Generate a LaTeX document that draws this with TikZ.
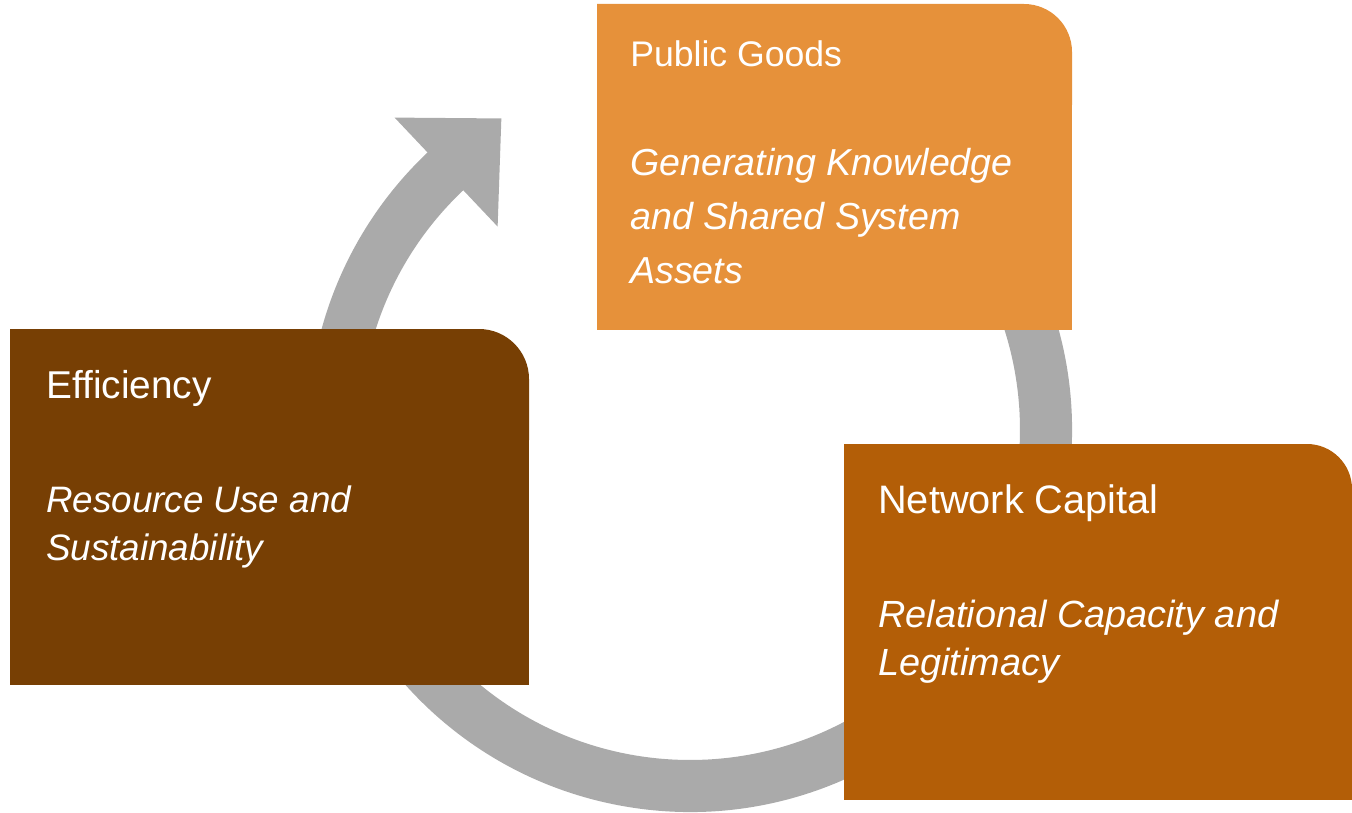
\documentclass[tikz,border=0pt]{standalone}
\usepackage{fontspec}
\setmainfont{Liberation Sans}
\usepackage{xcolor}
\usetikzlibrary{positioning,calc}

\definecolor{ringgray}{HTML}{AAAAAA}
\definecolor{pgorange}{HTML}{E6913A}
\definecolor{effbrown}{HTML}{773F04}
\definecolor{ncbrown}{HTML}{B35E07}

\begin{document}
\begin{tikzpicture}[x=0.75pt,y=-0.75pt,
                title node/.style={anchor=base west,inner sep=0pt,text=white},
                body node/.style={anchor=base west,inner sep=0pt,text=white,align=left}]
\useasboundingbox (0,0) rectangle (1352,813);
%Ring
\begin{scope}[shift={(690,430)},yscale=-1]
    \fill[ringgray] (80:382) arc[start angle=80,end angle=-226.6,radius=382]
        -- (133.4:430) -- ($(133.4:356)+(43.4:77)$) -- (133.4:280)
        -- (133.4:330) arc[start angle=-226.6,end angle=80,radius=330] -- cycle;
\end{scope}
%Boxes
    \fill[pgorange] (597,105) -- (597,4) -- (1024,4) .. controls (1050.5,4) and (1072,25.5) .. (1072,52) -- (1072,105) -- cycle;
    \fill[pgorange] (597,105) rectangle (1072,330);
    \fill[effbrown] (10,440) -- (10,329) -- (479,329) .. controls (506.6,329) and (529,351.4) .. (529,379) -- (529,440) -- cycle;
    \fill[effbrown] (10,440) rectangle (529,685);
    \fill[ncbrown] (844,554) -- (844,444) -- (1307,444) .. controls (1331.8,444) and (1352,464.2) .. (1352,489) -- (1352,554) -- cycle;
    \fill[ncbrown] (844,554) rectangle (1352,800);
%Nodes (body nodes sit on their last line)
    \node[title node,font=\fontsize{26.7}{32}\selectfont] (pgtitle) at (630,67) {Public Goods};
    \node[body node,font=\fontsize{28.2}{40.5}\selectfont\itshape] (pgtext) at (630,283)
        {Generating Knowledge\\and Shared System\\Assets};
    \node[title node,font=\fontsize{29.1}{35}\selectfont] (efftitle) at (46,398) {Efficiency};
    \node[body node,font=\fontsize{27.6}{36}\selectfont\itshape] (efftext) at (46,560)
        {Resource Use and\\Sustainability};
    \node[title node,font=\fontsize{29.8}{36}\selectfont] (nctitle) at (878,513) {Network Capital};
    \node[body node,font=\fontsize{28.4}{36}\selectfont\itshape] (nctext) at (878,675)
        {Relational Capacity and\\Legitimacy};
\end{tikzpicture}
\end{document}
